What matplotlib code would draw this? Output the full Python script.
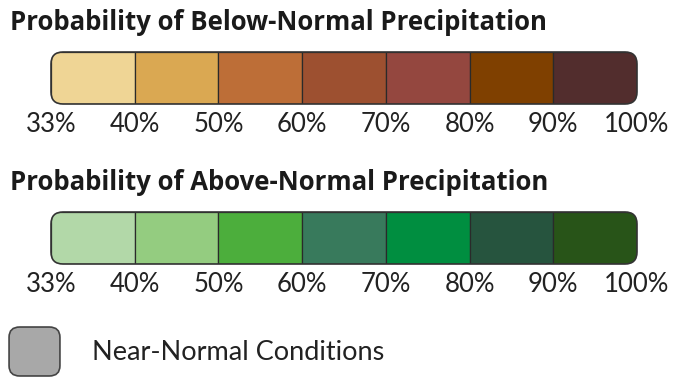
import matplotlib
matplotlib.use("Agg")
import matplotlib.pyplot as plt
from matplotlib.patches import FancyBboxPatch

# ---- data ----
thresholds = ["33%", "40%", "50%", "60%", "70%", "80%", "90%", "100%"]
below_title = "Probability of Below-Normal Precipitation"
below_colors = ["#EFD595", "#DAA852", "#BD6E37", "#9D5030", "#94473F", "#7F4000", "#522D2D"]
above_title = "Probability of Above-Normal Precipitation"
above_colors = ["#B2D8A8", "#94CC80", "#4CAE3C", "#387A5C", "#008E40", "#26543E", "#285418"]
near_label = "Near-Normal Conditions"
near_color = "#A8A8A8"

W, H = 679, 377
plt.rcParams['font.family'] = ['Lato', 'DejaVu Sans']
fig = plt.figure(figsize=(W / 100, H / 100), dpi=100)
fig.patch.set_facecolor("white")
renderer = fig.canvas.get_renderer()

def px_axes(x0, y0, x1, y1):
    return fig.add_axes([x0 / W, 1 - y1 / H, (x1 - x0) / W, (y1 - y0) / H])

def fit_text(x0, x1, yc, s, size, **kw):
    t = fig.text(x0 / W, 1 - yc / H, s, fontsize=size, va="center", ha="left", **kw)
    w = t.get_window_extent(renderer).width
    t.set_fontsize(size * (x1 - x0) / w)
    return t

def colorbar(ax, colors, labels, wpx, hpx, radius=12):
    n = len(colors)
    ax.set_xlim(0, n)
    ax.set_ylim(0, 1)
    clip = FancyBboxPatch((0, 0), 1, 1, transform=ax.transAxes,
                          boxstyle=f"round,pad=0,rounding_size={radius / wpx}",
                          mutation_aspect=wpx / hpx, facecolor="none",
                          edgecolor="none")
    ax.add_patch(clip)
    bars = ax.bar(range(n), 1, width=1, align="edge", color=colors,
                  edgecolor="#2a2a2a", linewidth=0.9)
    for b in bars:
        b.set_clip_path(clip)
    outline = FancyBboxPatch((0, 0), 1, 1, transform=ax.transAxes,
                             boxstyle=f"round,pad=0,rounding_size={radius / wpx}",
                             mutation_aspect=wpx / hpx, facecolor="none",
                             edgecolor="#333333", linewidth=1.2, clip_on=False)
    ax.add_patch(outline)
    ax.set_xticks(range(len(labels)))
    ax.set_xticklabels(labels, fontsize=18.5, color="#222222")
    ax.tick_params(axis="x", length=0, pad=6)
    ax.set_yticks([])
    for s in ax.spines.values():
        s.set_visible(False)

ax1 = px_axes(51, 52, 637, 104)
colorbar(ax1, below_colors, thresholds, 586, 52)
ax2 = px_axes(51, 212, 637, 264)
colorbar(ax2, above_colors, thresholds, 586, 52)

fit_text(10, 548, 22, below_title, 17, fontweight="bold", color="#1a1a1a",
         family=["Open Sans", "DejaVu Sans"])
fit_text(10, 548, 183, above_title, 17, fontweight="bold", color="#1a1a1a",
         family=["Open Sans", "DejaVu Sans"])

ax3 = px_axes(8, 326, 61, 377)
ax3.set_xlim(0, 1)
ax3.set_ylim(0, 1)
ax3.axis("off")
ax3.add_patch(FancyBboxPatch((0.02, 0.02), 0.96, 0.96, transform=ax3.transAxes,
                             boxstyle="round,pad=0,rounding_size=0.2",
                             facecolor=near_color, edgecolor="#444444",
                             linewidth=1.2))
fit_text(92, 384, 352, near_label, 17, color="#222222")

fig.savefig("out.png", dpi=100)
